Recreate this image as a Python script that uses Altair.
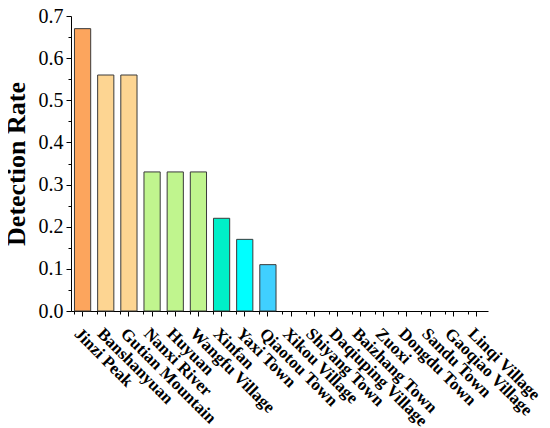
import altair as alt
import pandas as pd

sites = ["Jinzi Peak", "Banshanyuan", "Gutian Mountain", "Nanxi River", "Huyuan",
         "Wangfu Village", "Xinfan", "Yaxi Town", "Qiaotou Town", "Xikou Village",
         "Shiyang Town", "Daqiuping Village", "Baizhang Town", "Zuoxi", "Dongdu Town",
         "Sandu Town", "Gaoqiao Village", "Linqi Village"]
rates = [0.67, 0.56, 0.56, 0.33, 0.33, 0.33, 0.22, 0.17, 0.11,
         0, 0, 0, 0, 0, 0, 0, 0, 0]
palette = ["#FCA55D", "#FDD592", "#FDD592", "#C0F58E", "#C0F58E", "#C0F58E",
           "#00F0C8", "#00FFFF", "#40D0FF", "#40D0FF", "#40D0FF", "#40D0FF",
           "#40D0FF", "#40D0FF", "#40D0FF", "#40D0FF", "#40D0FF", "#40D0FF"]
y_tick_values = [0.0, 0.05, 0.1, 0.15, 0.2, 0.25, 0.3, 0.35, 0.4, 0.45, 0.5,
                 0.55, 0.6, 0.65, 0.7]

df = pd.DataFrame({"Site": sites, "Rate": rates})

FONT = "Liberation Serif"
is_major = "abs(datum.value*10 - round(datum.value*10)) < 0.001"

xscale = alt.Scale(domain=sites, paddingInner=0.3, paddingOuter=0.15)
yscale = alt.Scale(domain=[0, 0.7], nice=False, zero=True)

bars = alt.Chart(df).mark_bar(stroke="#3a3a3a").encode(
    x=alt.X("Site:N", sort=sites, scale=xscale,
            axis=alt.Axis(title=None, labelAngle=45, labelAlign="left",
                          labelBaseline="top", labelFont=FONT,
                          labelFontSize=17, labelFontWeight="bold",
                          labelColor="black", labelPadding=9, tickSize=5,
                          tickColor="black", domainColor="black",
                          labelOverlap=False, orient="bottom")),
    y=alt.Y("Rate:Q", scale=yscale,
            axis=alt.Axis(title="Detection Rate", values=y_tick_values,
                          labelExpr=f"{is_major} ? format(datum.value, '.1f') : ''",
                          labelOverlap=False, labelFont=FONT, labelFontSize=20,
                          labelColor="black", labelPadding=3,
                          tickSize=alt.condition(is_major, alt.value(5), alt.value(3)),
                          tickColor="black", domainColor="black",
                          titleFont=FONT, titleFontSize=26, titleFontWeight="bold",
                          titleColor="black", titlePadding=9, grid=False)),
    color=alt.Color("Site:N", scale=alt.Scale(domain=sites, range=palette), legend=None),
    strokeWidth=alt.condition("datum.Rate > 0", alt.value(1), alt.value(0)),
)

ghost = alt.Chart(df).mark_bar(opacity=0).encode(
    x=alt.X("Site:N", sort=sites, scale=xscale,
            axis=alt.Axis(title=None, labels=False, domain=False, tickSize=3,
                          tickColor="black", bandPosition=0, orient="bottom")),
    y=alt.Y("Rate:Q", scale=yscale, axis=None),
)

chart = alt.layer(bars, ghost).resolve_axis(x="independent", y="independent").properties(
    width=417, height=295,
    autosize=alt.AutoSizeParams(type="none"),
    padding={"left": 63, "top": 8, "right": 54, "bottom": 117},
).configure_view(stroke=None).configure_axis(grid=False)

chart.save("out.html", embed_options={"renderer": "svg", "actions": False})
